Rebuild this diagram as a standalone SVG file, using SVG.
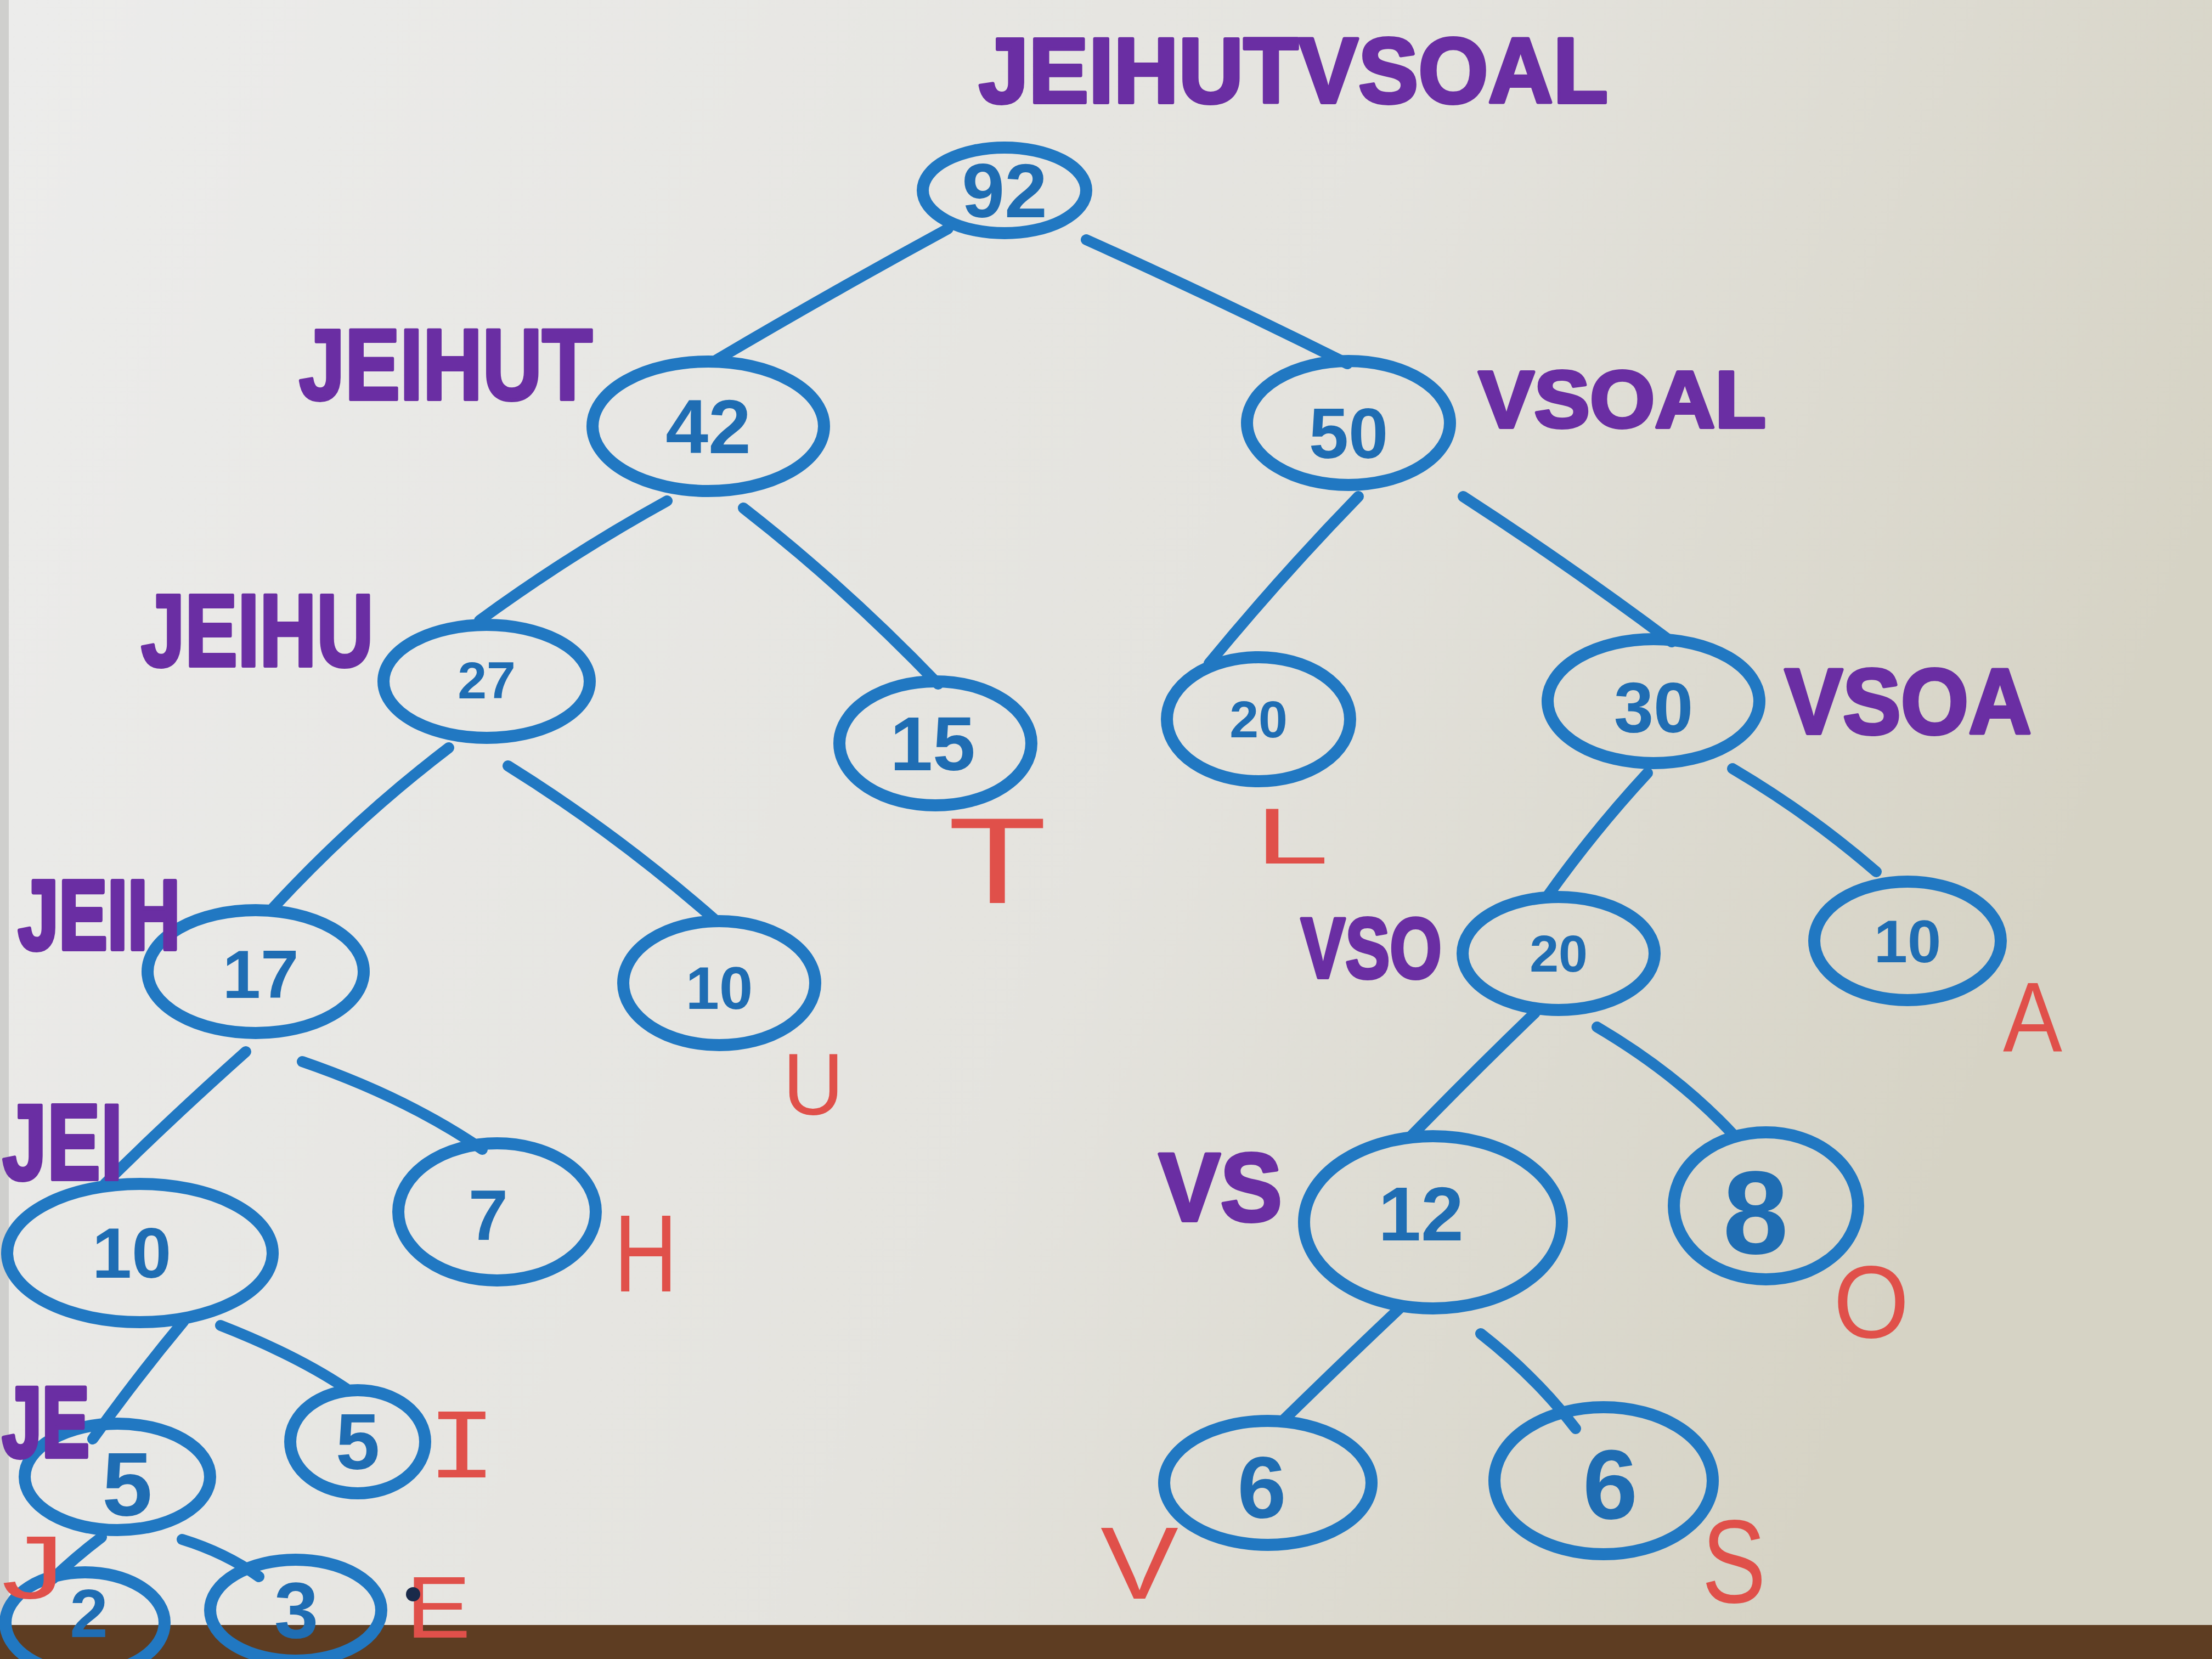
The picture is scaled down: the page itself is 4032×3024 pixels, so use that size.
<svg xmlns="http://www.w3.org/2000/svg" width="4032" height="3024" viewBox="0 0 4032 3024">
<defs>
<linearGradient id="paper" x1="0" y1="0" x2="1" y2="0.3">
<stop offset="0" stop-color="#ececeb"/>
<stop offset="0.6" stop-color="#e4e3de"/>
<stop offset="1" stop-color="#d6d3c5"/>
</linearGradient>
<style>
.node ellipse{fill:none;stroke:#2178c2;stroke-width:22;stroke-linecap:round}
.num{font-family:"Liberation Sans",Arial,sans-serif;font-weight:bold;fill:#1f6db3;text-anchor:middle;dominant-baseline:central}
.edges path{fill:none;stroke:#2178c2;stroke-width:20;stroke-linecap:round}
.lbl{font-family:"Liberation Sans",Arial,sans-serif;font-weight:bold;fill:#6a2ea3;stroke:#6a2ea3;stroke-width:6;stroke-linejoin:round}
.sym{font-family:"Liberation Sans",Arial,sans-serif;font-weight:normal;fill:#e0504a}
.mono{font-family:"Liberation Mono","Courier New",monospace}
</style>
</defs>
<rect x="0" y="0" width="4032" height="3024" fill="url(#paper)"/>
<rect x="0" y="0" width="16" height="2960" fill="#cfcfcd"/>
<rect x="0" y="2962" width="4032" height="62" fill="#5e3d22"/>

<g id="connectors" class="edges">
<path d="M1728,417 Q1520,530 1306,656"/>
<path d="M1980,437 Q2220,545 2456,663"/>
<path d="M1216,913 Q1040,1010 874,1131"/>
<path d="M1355,926 Q1540,1070 1710,1247"/>
<path d="M2476,905 Q2335,1050 2204,1209"/>
<path d="M2667,905 Q2860,1030 3047,1170"/>
<path d="M818,1363 Q645,1495 494,1659"/>
<path d="M926,1396 Q1125,1520 1306,1679"/>
<path d="M3003,1409 Q2905,1515 2821,1633"/>
<path d="M3158,1401 Q3300,1485 3420,1589"/>
<path d="M448,1917 Q310,2040 191,2158"/>
<path d="M551,1935 Q740,2000 879,2095"/>
<path d="M2798,1846 Q2680,1960 2571,2072"/>
<path d="M2911,1872 Q3060,1960 3163,2072"/>
<path d="M335,2408 Q250,2510 169,2623"/>
<path d="M402,2416 Q540,2470 631,2531"/>
<path d="M2551,2385 Q2440,2490 2337,2591"/>
<path d="M2699,2431 Q2800,2510 2872,2604"/>
<path d="M185,2802 Q135,2840 96,2878"/>
<path d="M332,2806 Q410,2830 472,2874"/>
</g>

<g id="n92" class="node"><ellipse cx="1831" cy="347" rx="149" ry="78"/><text class="num" x="1831" y="347" font-size="140">92</text></g>
<g id="n42" class="node"><ellipse cx="1291" cy="777" rx="211" ry="118"/><text class="num" x="1291" y="777" font-size="140">42</text></g>
<g id="n50" class="node"><ellipse cx="2458" cy="771" rx="185" ry="113"/><text class="num" x="2458" y="790" font-size="130">50</text></g>
<g id="n27" class="node"><ellipse cx="887" cy="1242" rx="188" ry="103"/><text class="num" x="887" y="1240" font-size="95">27</text></g>
<g id="n15" class="node"><ellipse cx="1705" cy="1355" rx="175" ry="113"/><text class="num" x="1700" y="1355" font-size="140">15</text></g>
<g id="n20L" class="node"><ellipse cx="2294" cy="1311" rx="167" ry="113"/><text class="num" x="2294" y="1311" font-size="95">20</text></g>
<g id="n30" class="node"><ellipse cx="3014" cy="1278" rx="193" ry="113"/><text class="num" x="3014" y="1290" font-size="130">30</text></g>
<g id="n17" class="node"><ellipse cx="466" cy="1771" rx="197" ry="112"/><text class="num" x="475" y="1775" font-size="125">17</text></g>
<g id="n10U" class="node"><ellipse cx="1311" cy="1792" rx="175" ry="113"/><text class="num" x="1311" y="1800" font-size="110">10</text></g>
<g id="n20VSO" class="node"><ellipse cx="2841" cy="1738" rx="175" ry="103"/><text class="num" x="2841" y="1738" font-size="95">20</text></g>
<g id="n10A" class="node"><ellipse cx="3477" cy="1715" rx="170" ry="108"/><text class="num" x="3477" y="1715" font-size="110">10</text></g>
<g id="n10JEI" class="node"><ellipse cx="255" cy="2284" rx="242" ry="126"/><text class="num" x="240" y="2284" font-size="130">10</text></g>
<g id="n7" class="node"><ellipse cx="906" cy="2209" rx="180" ry="125"/><text class="num" x="890" y="2215" font-size="130">7</text></g>
<g id="n12" class="node"><ellipse cx="2612" cy="2228" rx="235" ry="157"/><text class="num" x="2590" y="2212" font-size="140">12</text></g>
<g id="n8" class="node"><ellipse cx="3219" cy="2198" rx="168" ry="134"/><text class="num" x="3200" y="2210" font-size="215">8</text></g>
<g id="n5JE" class="node"><ellipse cx="214" cy="2692" rx="169" ry="97"/><text class="num" x="232" y="2705" font-size="165">5</text></g>
<g id="n5I" class="node"><ellipse cx="652" cy="2628" rx="123" ry="94"/><text class="num" x="652" y="2628" font-size="145">5</text></g>
<g id="n6V" class="node"><ellipse cx="2311" cy="2703" rx="189" ry="113"/><text class="num" x="2300" y="2710" font-size="160">6</text></g>
<g id="n6S" class="node"><ellipse cx="2923" cy="2699" rx="199" ry="134"/><text class="num" x="2935" y="2705" font-size="180">6</text></g>
<g id="n2" class="node"><ellipse cx="155" cy="2958" rx="145" ry="92"/><text class="num" x="162" y="2940" font-size="125">2</text></g>
<g id="n3" class="node"><ellipse cx="539" cy="2935" rx="156" ry="92"/><text class="num" x="540" y="2935" font-size="145">3</text></g>

<g id="labels">
<text class="lbl" x="1784" y="187" font-size="168" textLength="1147" lengthAdjust="spacingAndGlyphs">JEIHUTVSOAL</text>
<text class="lbl" x="545" y="728" font-size="183" textLength="535" lengthAdjust="spacingAndGlyphs">JEIHUT</text>
<text class="lbl" x="2695" y="779" font-size="147" textLength="524" lengthAdjust="spacingAndGlyphs">VSOAL</text>
<text class="lbl" x="257" y="1214" font-size="187" textLength="424" lengthAdjust="spacingAndGlyphs">JEIHU</text>
<text class="lbl" x="3253" y="1337" font-size="169" textLength="450" lengthAdjust="spacingAndGlyphs">VSOA</text>
<text class="lbl" transform="translate(33,1730) scale(1,1.35)" x="0" y="0" font-size="133">JEIH</text>
<text class="lbl" x="2371" y="1782" font-size="155" textLength="257" lengthAdjust="spacingAndGlyphs">VSO</text>
<text class="lbl" x="4" y="2150" font-size="197" textLength="220" lengthAdjust="spacingAndGlyphs">JEI</text>
<text class="lbl" x="2112" y="2225" font-size="177" textLength="225" lengthAdjust="spacingAndGlyphs">VS</text>
<text class="lbl" transform="translate(4,2655) scale(1,1.4)" x="0" y="0" font-size="130">JE</text>
</g>

<g id="symbols">
<text class="sym" x="1728" y="1646" font-size="223" textLength="180" lengthAdjust="spacingAndGlyphs">T</text>
<text class="sym" x="2288" y="1574" font-size="144" textLength="134" lengthAdjust="spacingAndGlyphs">L</text>
<text class="sym" x="1427" y="2031" font-size="160" textLength="111" lengthAdjust="spacingAndGlyphs">U</text>
<text class="sym" x="3651" y="1916" font-size="180" textLength="108" lengthAdjust="spacingAndGlyphs">A</text>
<text class="sym" x="1119" y="2354" font-size="201" textLength="116" lengthAdjust="spacingAndGlyphs">H</text>
<text class="sym" x="3342" y="2438" font-size="187" textLength="138" lengthAdjust="spacingAndGlyphs">O</text>
<text class="sym mono" x="778" y="2693" font-size="182" textLength="128" lengthAdjust="spacingAndGlyphs">I</text>
<text class="sym" x="3102" y="2921" font-size="215" textLength="117" lengthAdjust="spacingAndGlyphs">S</text>
<text class="sym" x="2006" y="2914" font-size="187" textLength="142" lengthAdjust="spacingAndGlyphs">V</text>
<text class="sym" x="3" y="2913" font-size="163" textLength="115" lengthAdjust="spacingAndGlyphs">J</text>
<text class="sym" x="740" y="2985" font-size="160" textLength="118" lengthAdjust="spacingAndGlyphs">E</text>
<circle cx="753" cy="2906" r="13" fill="#1a2a4a"/>
</g>
</svg>
